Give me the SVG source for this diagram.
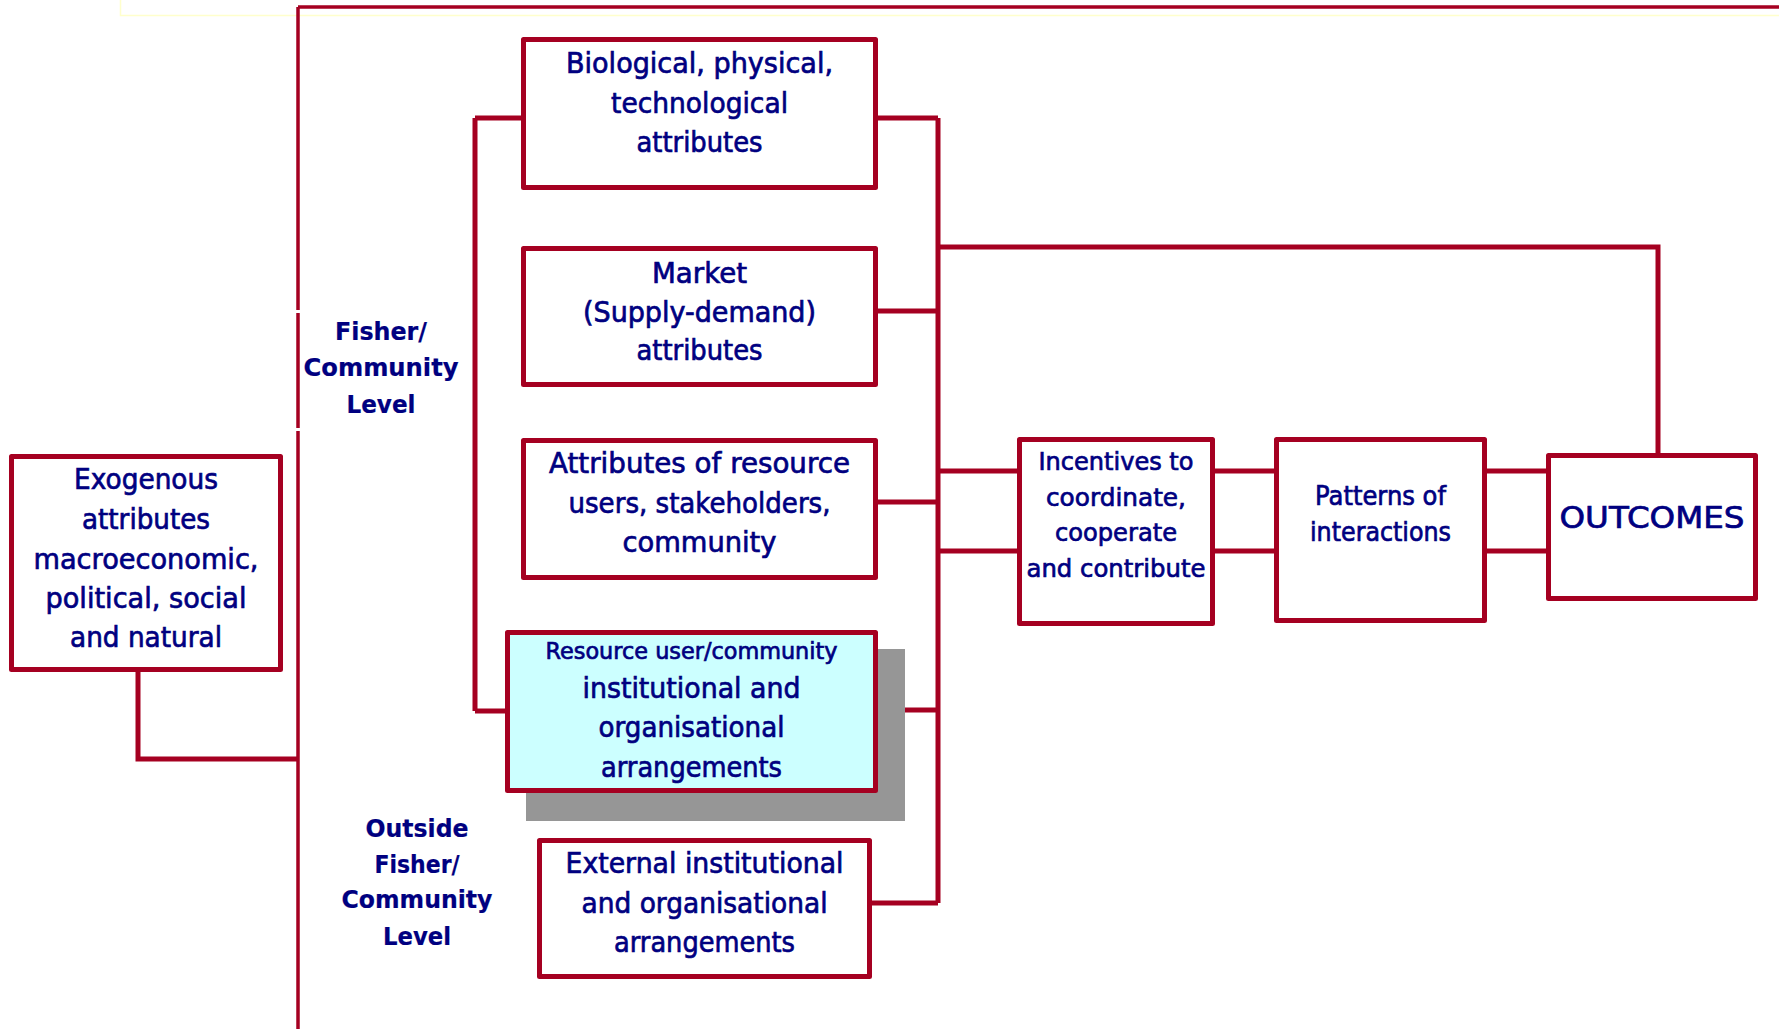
<svg xmlns="http://www.w3.org/2000/svg" width="1779" height="1029" viewBox="0 0 1779 1029">
<style>
.box{fill:#ffffff;stroke:#A50021;stroke-width:5;stroke-linejoin:round}
.cyan{fill:#CCFFFF}
.ln{fill:none;stroke:#A50021;stroke-width:5}
.thin{fill:none;stroke:#A50021;stroke-width:3.5}
text{font-family:"DejaVu Sans","Liberation Sans",sans-serif;fill:#000080;stroke:#000080;stroke-width:0.7;text-anchor:middle;font-size:28px}
.b{font-weight:bold;font-size:24px;stroke-width:0.2}
.s{font-size:23px}
.m{font-size:25px}
.p{font-size:26px}
.o{font-size:30px}
</style>
<rect width="1779" height="1029" fill="#ffffff"/>
<path d="M120.5 0 V15.5 H1779" fill="none" stroke="#FFFFCC" stroke-width="1.5"/>
<g id="connectors">
<path class="thin" d="M298 7 H1779 M298 7 V310 M298 313 V428 M298 431 V1029"/>
<path class="ln" d="M475 118 V711 M475 118 H523 M475 711 H507"/>
<path class="ln" d="M938 118 V903 M876 118 H938 M876 311 H938 M876 502 H938 M876 710 H938 M870 903 H938"/>
<path class="ln" d="M938 247 H1658 V455"/>
<path class="ln" d="M938 471 H1019 M938 551 H1019 M1215 471 H1276 M1215 551 H1276 M1485 471 H1548 M1485 551 H1548"/>
<path class="ln" d="M138 672 V759 H298"/>
</g>
<g id="bio">
<rect class="box" x="523.5" y="39.5" width="352" height="148"/>
<text x="699.5" y="73" textLength="267" lengthAdjust="spacingAndGlyphs">Biological, physical,</text>
<text x="699.5" y="113" textLength="177" lengthAdjust="spacingAndGlyphs">technological</text>
<text x="699.5" y="152" textLength="126" lengthAdjust="spacingAndGlyphs">attributes</text>
</g>
<g id="market">
<rect class="box" x="523.5" y="248.5" width="352" height="136"/>
<text x="699.5" y="283" textLength="95" lengthAdjust="spacingAndGlyphs">Market</text>
<text x="699.5" y="322" textLength="233" lengthAdjust="spacingAndGlyphs">(Supply-demand)</text>
<text x="699.5" y="360" textLength="126" lengthAdjust="spacingAndGlyphs">attributes</text>
</g>
<g id="attributes">
<rect class="box" x="523.5" y="440.5" width="352" height="137"/>
<text x="699.5" y="473" textLength="301" lengthAdjust="spacingAndGlyphs">Attributes of resource</text>
<text x="699.5" y="513" textLength="262" lengthAdjust="spacingAndGlyphs">users, stakeholders,</text>
<text x="699.5" y="552" textLength="154" lengthAdjust="spacingAndGlyphs">community</text>
</g>
<g id="resource">
<rect x="526" y="649" width="379" height="172" fill="#969696"/>
<rect class="box cyan" x="507.5" y="632.5" width="368" height="158"/>
<text class="s" x="691.5" y="659" textLength="292" lengthAdjust="spacingAndGlyphs">Resource user/community</text>
<text x="691.5" y="698" textLength="218" lengthAdjust="spacingAndGlyphs">institutional and</text>
<text x="691.5" y="737" textLength="186" lengthAdjust="spacingAndGlyphs">organisational</text>
<text x="691.5" y="777" textLength="181" lengthAdjust="spacingAndGlyphs">arrangements</text>
</g>
<g id="external">
<rect class="box" x="539.5" y="840.5" width="330" height="136"/>
<text x="704.5" y="873" textLength="278" lengthAdjust="spacingAndGlyphs">External institutional</text>
<text x="704.5" y="913" textLength="246" lengthAdjust="spacingAndGlyphs">and organisational</text>
<text x="704.5" y="952" textLength="181" lengthAdjust="spacingAndGlyphs">arrangements</text>
</g>
<g id="exogenous">
<rect class="box" x="11.5" y="456.5" width="269" height="213"/>
<text x="146" y="489" textLength="144" lengthAdjust="spacingAndGlyphs">Exogenous</text>
<text x="146" y="529" textLength="128" lengthAdjust="spacingAndGlyphs">attributes</text>
<text x="146" y="569" textLength="225" lengthAdjust="spacingAndGlyphs">macroeconomic,</text>
<text x="146" y="608" textLength="201" lengthAdjust="spacingAndGlyphs">political, social</text>
<text x="146" y="647" textLength="152" lengthAdjust="spacingAndGlyphs">and natural</text>
</g>
<g id="fisher-level">
<text class="b" x="381" y="340" textLength="92" lengthAdjust="spacingAndGlyphs">Fisher/</text>
<text class="b" x="381" y="376" textLength="155" lengthAdjust="spacingAndGlyphs">Community</text>
<text class="b" x="381" y="413" textLength="69" lengthAdjust="spacingAndGlyphs">Level</text>
</g>
<g id="outside-level">
<text class="b" x="417" y="837" textLength="103" lengthAdjust="spacingAndGlyphs">Outside</text>
<text class="b" x="417" y="873" textLength="85" lengthAdjust="spacingAndGlyphs">Fisher/</text>
<text class="b" x="417" y="908" textLength="151" lengthAdjust="spacingAndGlyphs">Community</text>
<text class="b" x="417" y="945" textLength="68" lengthAdjust="spacingAndGlyphs">Level</text>
</g>
<g id="incentives">
<rect class="box" x="1019.5" y="439.5" width="193" height="184"/>
<text class="m" x="1116" y="470" textLength="155" lengthAdjust="spacingAndGlyphs">Incentives to</text>
<text class="m" x="1116" y="506" textLength="140" lengthAdjust="spacingAndGlyphs">coordinate,</text>
<text class="m" x="1116" y="541" textLength="122" lengthAdjust="spacingAndGlyphs">cooperate</text>
<text class="m" x="1116" y="577" textLength="179" lengthAdjust="spacingAndGlyphs">and contribute</text>
</g>
<g id="patterns">
<rect class="box" x="1276.5" y="439.5" width="208" height="181"/>
<text class="p" x="1380.5" y="505" textLength="131" lengthAdjust="spacingAndGlyphs">Patterns of</text>
<text class="p" x="1380.5" y="541" textLength="141" lengthAdjust="spacingAndGlyphs">interactions</text>
</g>
<g id="outcomes">
<rect class="box" x="1548.5" y="455.5" width="207" height="143"/>
<text class="o" x="1652" y="528" textLength="185" lengthAdjust="spacingAndGlyphs">OUTCOMES</text>
</g>
</svg>
